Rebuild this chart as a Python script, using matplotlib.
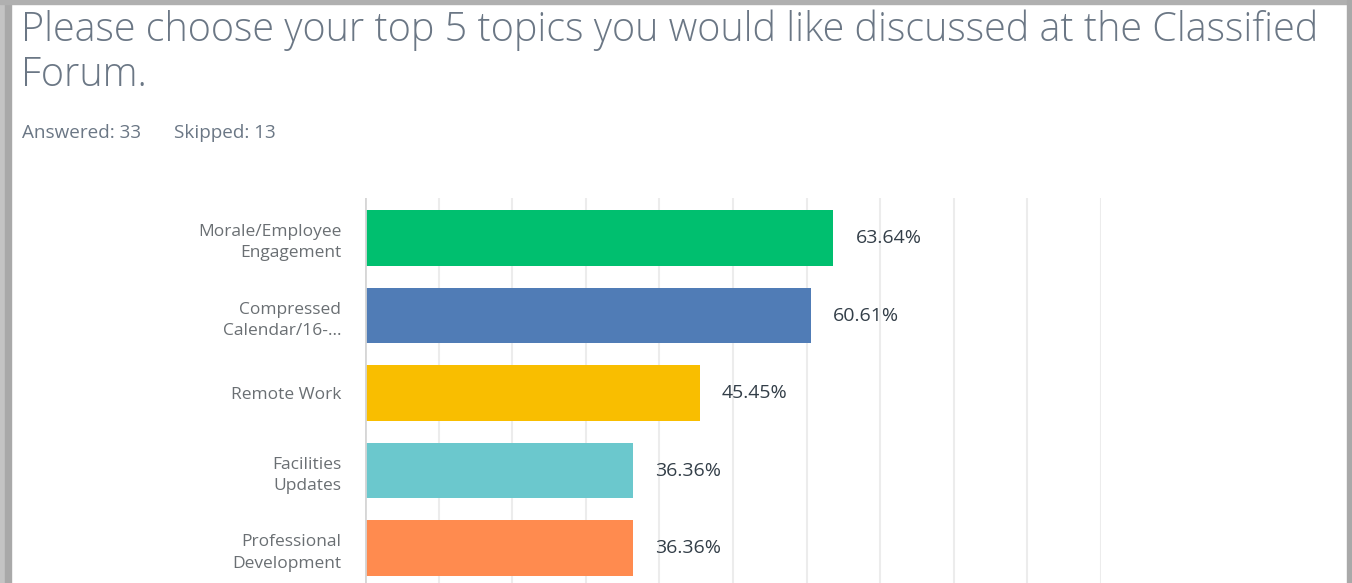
import matplotlib.pyplot as plt
from matplotlib.patches import Rectangle

categories = ["Morale/Employee\nEngagement", "Compressed\nCalendar/16-...", "Remote Work",
              "Facilities\nUpdates", "Professional\nDevelopment"]
values = [63.64, 60.61, 45.45, 36.36, 36.36]
colors = ["#00bf6f", "#507cb6", "#f9be00", "#6bc8cd", "#ff8b4f"]
title = "Please choose your top 5 topics you would like discussed at the Classified\nForum."
answered = "Answered: 33"
skipped = "Skipped: 13"

W, H = 1352, 583
fig = plt.figure(figsize=(W / 100, H / 100), dpi=100)
fig.patch.set_facecolor("white")

# screenshot frame (shadow on left/top/right)
fig.patches.append(Rectangle((0, 0), 5 / W, 1, transform=fig.transFigure, color="#c4c4c4", zorder=0))
fig.patches.append(Rectangle((5 / W, 0), 6 / W, 1, transform=fig.transFigure, color="#a9a9a9", zorder=0))
fig.patches.append(Rectangle((0, 1 - 4 / H), 1, 4 / H, transform=fig.transFigure, color="#b0b0b0", zorder=0))
fig.patches.append(Rectangle((1 - 5 / W, 0), 5 / W, 1, transform=fig.transFigure, color="#a9a9a9", zorder=0))

# title (two lines) + summary line
for k, line in enumerate(title.split("\n")):
    fig.text(21 / W, 1 - (41 + 45 * k) / H, line, ha="left", va="baseline", fontsize=28.5,
             family="Open Sans", fontweight="light", color="#6b7785")
fig.text(22 / W, 1 - 133 / H, answered, ha="left", va="center", fontsize=13.6, family="Open Sans",
         color="#6b7785")
fig.text(174 / W, 1 - 133 / H, skipped, ha="left", va="center", fontsize=13.6, family="Open Sans",
         color="#6b7785")

ax = fig.add_axes([365 / W, 0, (1101 - 365) / W, (H - 198) / H])
pos = list(range(len(values)))
ax.barh(pos, values, height=0.72, color=colors, zorder=3)
for i, v in enumerate(values):
    ax.text(v + 3.0, i, f"{v:.2f}%", va="center", ha="left", fontsize=14,
            family="Open Sans", color="#333e48")

ax.set_xlim(0, 100)
ax.set_ylim(4.45, -0.516)
ax.set_xticks(range(10, 101, 10))
ax.xaxis.grid(True, color="#ececec", linewidth=1.5, zorder=0)
ax.axvline(0, color="#d6d6d6", linewidth=2, zorder=4)
ax.tick_params(axis="x", length=0, labelbottom=False)
ax.set_yticks(pos)
ax.set_yticklabels(categories, family="Open Sans", fontsize=12.5, color="#6a6f73",
                   linespacing=1.45)
ax.tick_params(axis="y", length=0, pad=17)
for s in ax.spines.values():
    s.set_visible(False)

fig.savefig("out.png", dpi=100)
